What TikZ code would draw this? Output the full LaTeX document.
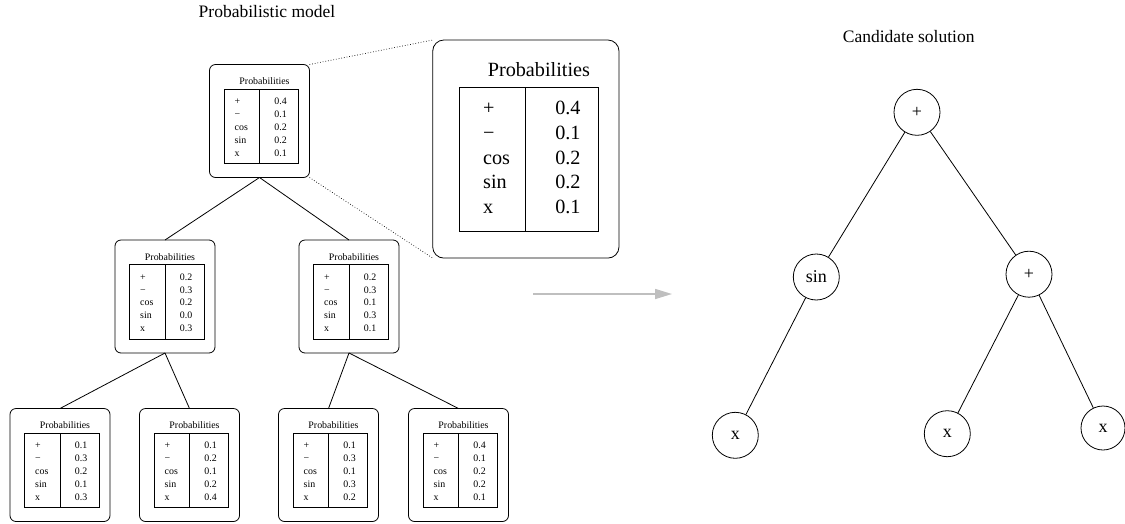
\documentclass[tikz,border=0pt]{standalone}
\usepackage{fontspec}
\setmainfont{Liberation Serif}
\usetikzlibrary{arrows.meta}
\tikzset{
  pframe/.style={draw, line width=0.8pt, inner sep=0pt, outer sep=0pt},
  ptab/.style={draw, line width=0.8pt, inner sep=0pt, outer sep=0pt},
  pline/.style={line width=0.8pt},
  plab/.style={inner sep=0pt, text height=0.66em, text depth=0pt},
  edge/.style={line width=0.8pt},
  dotline/.style={dotted, line width=0.7pt},
  tnode/.style={draw, circle, line width=0.8pt, minimum size=46pt, inner sep=0pt,
    font=\fontsize{18}{18}\selectfont},
  ttitle/.style={inner sep=0pt, text height=0.66em, text depth=0pt,
    font=\fontsize{17.5}{17.5}\selectfont},
  garrow/.style={draw=black!25, line width=1.6pt,
    -{Triangle[length=17pt, width=10pt, fill=black!25]}}
}
% #1 name, #2 left, #3 top, #4 xscale, #5 yscale, #6 font size, #7 values, #8 text x shift
\newcommand\pbox[8]{%
  \node[pframe, rounded corners={6*#4}, minimum width={100*#4}, minimum height={113*#5}]
    (#1) at ({#2+50*#4},{#3+56.5*#5}) {};
  \node[plab, font=\fontsize{#6}{#6}\selectfont] (#1-t) at ({#2+55*#4+#8},{#3+17*#5}) {Probabilities};
  \node[ptab, minimum width={74.5*#4}, minimum height={74.5*#5}]
    (#1-tab) at ({#2+51.75*#4},{#3+61.75*#5}) {};
  \draw[pline] ({#2+50*#4},{#3+24.5*#5}) -- ({#2+50*#4},{#3+99*#5});
  \foreach \lab [count=\i] in {+,−,cos,sin,x}
    \node[plab, anchor=west, font=\fontsize{#6}{#6}\selectfont] (#1-l\i)
      at ({#2+25*#4+#8},{#3+(37+12.8*(\i-1))*#5}) {\lab};
  \foreach \v [count=\i] in {#7}
    \node[plab, anchor=east, font=\fontsize{#6}{#6}\selectfont] (#1-v\i)
      at ({#2+77.5*#4+#8},{#3+(37+12.8*(\i-1))*#5}) {\v};
}
\begin{document}
\begin{tikzpicture}[x=1pt, y=-1pt]
\useasboundingbox (0,0) rectangle (1125,523);

\node[ttitle] (title1) at (267,14) {Probabilistic model};
\node[ttitle] (title2) at (908.7,39.3) {Candidate solution};

% probabilistic model tree
\pbox{root}{209.5}{64.5}{1}{1}{9.9}{0.4,0.1,0.2,0.2,0.1}{0}
\pbox{la}{115}{240}{1}{1}{9.9}{0.2,0.3,0.2,0.0,0.3}{0}
\pbox{lb}{299}{240}{1}{1}{9.9}{0.2,0.3,0.1,0.3,0.1}{0}
\pbox{ma}{10}{408.5}{1}{1}{9.9}{0.1,0.3,0.2,0.1,0.3}{0}
\pbox{mb}{139.5}{408.5}{1}{1}{9.9}{0.1,0.2,0.1,0.2,0.4}{0}
\pbox{mc}{278.5}{408.5}{1}{1}{9.9}{0.1,0.3,0.1,0.3,0.2}{0}
\pbox{md}{408.5}{408.5}{1}{1}{9.9}{0.4,0.1,0.2,0.2,0.1}{0}
\pbox{big}{432.7}{40}{1.863}{1.93}{20.2}{0.4,0.1,0.2,0.2,0.1}{3.7}

\draw[edge] (root.south) -- (la.north);
\draw[edge] (root.south) -- (lb.north);
\draw[edge] (la.south) -- (ma.north);
\draw[edge] (la.south) -- (mb.north);
\draw[edge] (lb.south) -- (mc.north);
\draw[edge] (lb.south) -- (md.north);

\draw[dotline] (root.north east) -- (big.north west);
\draw[dotline] (root.south east) -- (big.south west);

% arrow
\coordinate (arrowA) at (533,294);
\coordinate (arrowB) at (672,294);
\draw[garrow] (arrowA) -- (arrowB);

% candidate solution tree
\node[tnode] (c0) at (917,112.3) {+};
\node[tnode] (c1) at (816.3,277) {sin};
\node[tnode] (c2) at (1029,274.2) {+};
\node[tnode] (c3) at (735.3,435.3) {x};
\node[tnode] (c4) at (947.3,433.7) {x};
\node[tnode, minimum size=44pt] (c5) at (1103,428) {x};

\draw[edge] (c0) -- (c1);
\draw[edge] (c0) -- (c2);
\draw[edge] (c1) -- (c3);
\draw[edge] (c2) -- (c4);
\draw[edge] (c2) -- (c5);
\end{tikzpicture}
\end{document}
